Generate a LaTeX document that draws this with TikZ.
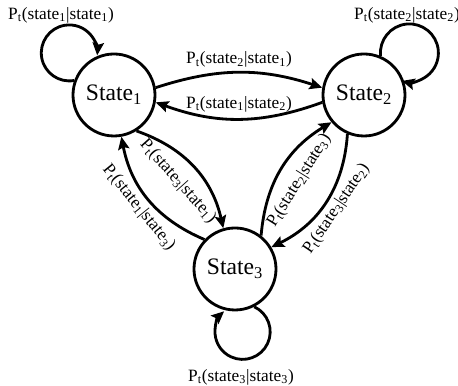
\documentclass[tikz,border=0pt]{standalone}
\usepackage{fontspec}
\setmainfont{Liberation Serif}
\usetikzlibrary{arrows.meta}

\newcommand{\trans}[2]{P\textsubscript{t}(state\textsubscript{#1}|state\textsubscript{#2})}

\begin{document}
\begin{tikzpicture}[
            state/.style = {draw, circle, line width = 2pt, minimum size = 2.05cm, inner sep = 0pt, font = \fontsize{16.8}{18}\selectfont},
            every edge/.style = {draw, line width = 2pt, -{Stealth[length = 9pt, width = 8pt, inset = 1.5pt]}},
            selfloop/.style = {line width = 2pt, -{Stealth[length = 9pt, width = 8pt, inset = 1.5pt]}},
            lbl/.style = {font = \fontsize{12.3}{14}\selectfont, inner sep = 2.5pt},
            inlbl/.style = {lbl, inner sep = 8.5pt}
            ]
            \useasboundingbox (0,0) rectangle (11.45,9.65);
            \node[state] (s1) at (2.85,7.275) {State\textsubscript{1}};
            \node[state] (s2) at (9.1,7.275) {State\textsubscript{2}};
            \node[state] (s3) at (5.875,2.925) {State\textsubscript{3}};
            % self loops
            \draw[selfloop] (s1.160) arc[start angle = -80, end angle = -365, radius = 0.7];
            \draw[selfloop] (s2.67) arc[start angle = 186, end angle = -105, radius = 0.725];
            \draw[selfloop] (s3.297) arc[start angle = 65, end angle = -228, radius = 0.69];
            \node[lbl] (l11) at (1.525,9.275) {\trans{1}{1}};
            \node[lbl] (l22) at (10.175,9.275) {\trans{2}{2}};
            \node[lbl] (l33) at (6.025,0.225) {\trans{3}{3}};
            % transitions
            \draw (s1.10) edge[bend left = 18] node[lbl, above] {\trans{2}{1}} (s2.170)
                  (s2.190) edge[bend left = 20] node[lbl, above, inner sep = 4pt] {\trans{1}{2}} (s1.350)
                  (s1.302) edge[bend left = 29] node[inlbl, sloped, below] {\trans{3}{1}} (s3.106)
                  (s3.136) edge[bend left = 28] node[lbl, sloped, below] {\trans{1}{3}} (s1.280)
                  (s3.52) edge[bend left = 27] node[inlbl, sloped, below] {\trans{2}{3}} (s2.220)
                  (s2.247) edge[bend left = 30] node[lbl, sloped, below] {\trans{3}{2}} (s3.31);
          \end{tikzpicture}
\end{document}
